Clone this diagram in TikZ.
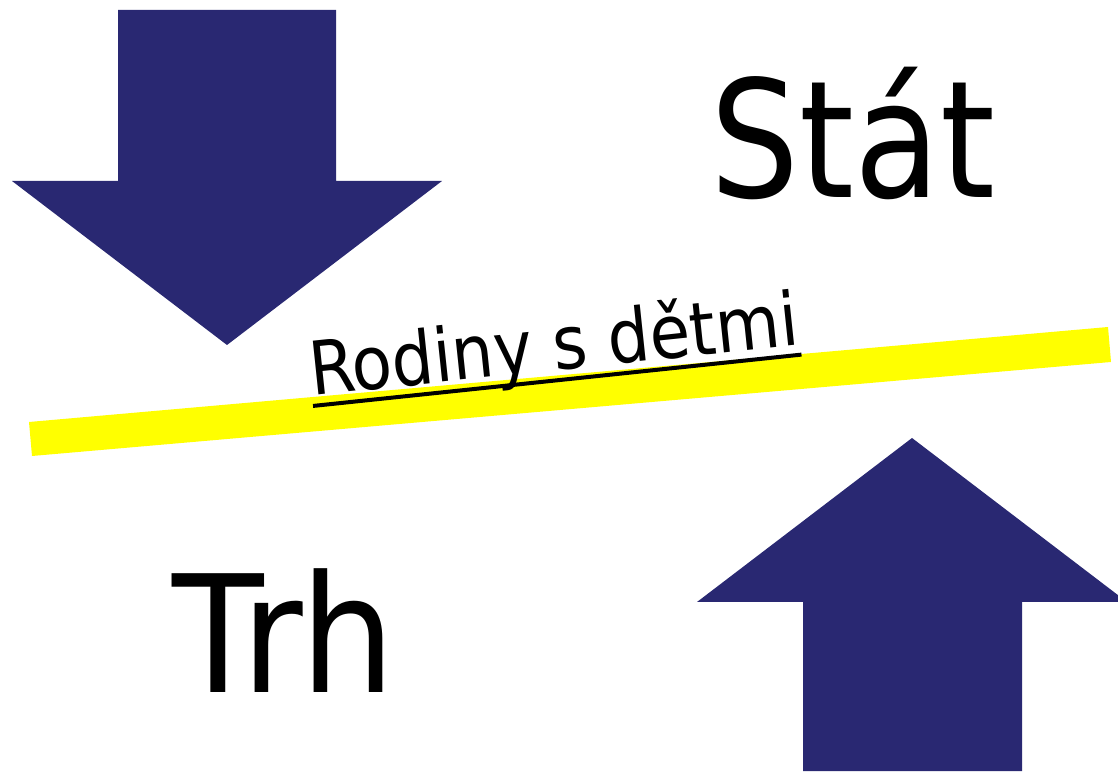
\documentclass[tikz,border=0pt]{standalone}
\usepackage{fontspec}
\newfontfamily\tahomalike[FakeStretch=0.86]{DejaVu Sans}
\newfontfamily\tahomawide[FakeStretch=0.92]{DejaVu Sans}
\newfontfamily\tahomasmall[FakeStretch=0.89]{DejaVu Sans}
\usepackage{xcolor}
\definecolor{ArrowNavy}{HTML}{292872}
\definecolor{BandYellow}{HTML}{FFFF00}
\usetikzlibrary{calc}

\begin{document}
\begin{tikzpicture}[x=1pt,y=1pt]
		\def\W{1118} % picture width
		\def\H{771}  % picture height
		\useasboundingbox (0,0) rectangle (\W,\H);
		
		% arrow from the top
		\fill[ArrowNavy] (118,761) -- (336,761) -- (336,590) -- (442,590) -- (227,426) -- (12,590) -- (118,590) -- cycle;
		
		% arrow from the bottom
		\fill[ArrowNavy] (803,0) -- (1022,0) -- (1022,169) -- (1127,169) -- (912,333) -- (697,169) -- (803,169) -- cycle;
		
		% yellow band
		\fill[BandYellow] (32,315) -- (1111,409) -- (1108,444) -- (29,349) -- cycle;
		
		\node[anchor=base west, inner sep=0, font=\tahomalike\fontsize{163}{180}\selectfont] (stat) at (710,573) {Stát};
		\node[anchor=base west, inner sep=0, font=\tahomawide\fontsize{163}{180}\selectfont] (trh) at (172,79) {Trh};
		
		\node[anchor=base west, inner sep=0, rotate=6, font=\tahomasmall\fontsize{74}{80}\selectfont] (rodiny) at (312,375) {Rodiny s dětmi};
		\draw[line width=4] ($(rodiny.base west)!10pt!-90:(rodiny.base east)$) -- ($(rodiny.base east)!10pt!90:(rodiny.base west)$);
		
	\end{tikzpicture}
\end{document}
